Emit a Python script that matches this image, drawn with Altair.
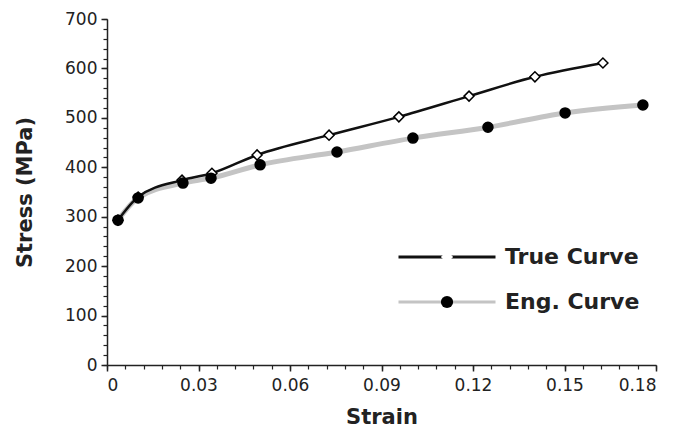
import altair as alt
import pandas as pd

series_names = ["True Curve", "Eng. Curve"]

true_strain = [0.0036, 0.0102, 0.0246, 0.0344, 0.0492, 0.0728, 0.0957, 0.1187, 0.1403, 0.1626]
true_stress = [293, 340, 374, 388, 425, 465, 502, 544, 583, 611]

eng_strain = [0.0036, 0.0102, 0.0249, 0.0341, 0.0502, 0.0754, 0.1003, 0.1249, 0.1502, 0.1757]
eng_stress = [293, 338, 368, 378, 405, 431, 459, 481, 510, 526]

x_major = [0, 0.03, 0.06, 0.09, 0.12, 0.15, 0.18]
x_minor = [round(i * 0.006, 3) for i in range(31)]
y_major = [0, 100, 200, 300, 400, 500, 600, 700]
y_minor = list(range(0, 701, 20))

rows = []
for s, v in zip(true_strain, true_stress):
    rows.append({"strain": s, "stress": v, "series": "True Curve", "marker": "True Curve"})
for s, v in zip(eng_strain, eng_stress):
    rows.append({"strain": s, "stress": v, "series": "Eng. Curve", "marker": "Eng. Curve"})
df = pd.DataFrame(rows)

FONT = "DejaVu Sans"
INK = "#222222"

x_scale = alt.Scale(domain=[0, 0.18], nice=False, zero=False)
y_scale = alt.Scale(domain=[0, 700], nice=False)

x_major_axis = alt.Axis(
    values=x_major, format=".2~f", orient="bottom", grid=False,
    domainColor=INK, domainWidth=1.5, tickColor=INK, tickWidth=1.5, tickSize=6,
    labelFont=FONT, labelFontSize=17, labelColor=INK, labelPadding=6,
    title="Strain", titleFont=FONT, titleFontWeight="bold", titleFontSize=21,
    titleColor=INK, titlePadding=13,
)
y_major_axis = alt.Axis(
    values=y_major, orient="left", grid=False,
    domainColor=INK, domainWidth=1.5, tickColor=INK, tickWidth=1.5, tickSize=6,
    labelFont=FONT, labelFontSize=17, labelColor=INK, labelPadding=4,
    title="Stress (MPa)", titleFont=FONT, titleFontWeight="bold", titleFontSize=21,
    titleColor=INK, titlePadding=29,
)
x_minor_axis = alt.Axis(
    values=x_minor, orient="bottom", grid=False, labels=False, domain=False,
    tickColor=INK, tickWidth=1.2, tickSize=4, title=None,
)
y_minor_axis = alt.Axis(
    values=y_minor, orient="left", grid=False, labels=False, domain=False,
    tickColor=INK, tickWidth=1.2, tickSize=4, title=None,
)

LEG_Y = 227
common_legend = dict(
    title=None, orient="none", legendY=LEG_Y, padding=0,
    labelFont=FONT, labelFontWeight="bold", labelFontSize=22, labelColor=INK,
    rowPadding=23,
)
line_legend = alt.Legend(
    symbolType="M-9.7,0H9.7", symbolSize=100, symbolStrokeWidth=3, symbolOffset=38,
    legendX=291, labelOffset=47, zindex=0,
    **common_legend,
)
marker_legend = alt.Legend(
    symbolSize=150, symbolStrokeColor="black", symbolStrokeWidth=1.5, labelOpacity=0,
    legendX=329, labelOffset=47, zindex=1,
    **common_legend,
)

stroke_enc = alt.Stroke(
    "series:N",
    scale=alt.Scale(domain=series_names, range=["#111111", "#c4c4c4"]),
    legend=line_legend,
)
fill_enc = alt.Fill(
    "marker:N", sort="descending",
    scale=alt.Scale(range=["white", "black"]), legend=marker_legend,
)
shape_enc = alt.Shape(
    "marker:N", sort="descending",
    scale=alt.Scale(range=["diamond", "circle"]), legend=marker_legend,
)

base = alt.Chart(df)

eng_line = base.transform_filter(alt.datum.series == "Eng. Curve").mark_line(
    strokeWidth=5, interpolate="monotone"
).encode(
    x=alt.X("strain:Q", scale=x_scale, axis=x_major_axis),
    y=alt.Y("stress:Q", scale=y_scale, axis=y_major_axis),
    stroke=stroke_enc,
)
true_line = base.transform_filter(alt.datum.series == "True Curve").mark_line(
    strokeWidth=2.5, interpolate="monotone"
).encode(
    x=alt.X("strain:Q", scale=x_scale, axis=None),
    y=alt.Y("stress:Q", scale=y_scale, axis=None),
    stroke=stroke_enc,
)
true_pts = base.transform_filter(alt.datum.series == "True Curve").mark_point(
    filled=False, size=100, stroke="black", strokeWidth=1.5, opacity=1
).encode(
    x=alt.X("strain:Q", scale=x_scale, axis=x_minor_axis),
    y=alt.Y("stress:Q", scale=y_scale, axis=y_minor_axis),
    fill=fill_enc,
    shape=shape_enc,
)
eng_pts = base.transform_filter(alt.datum.series == "Eng. Curve").mark_point(
    filled=False, size=100, stroke="black", strokeWidth=1.5, opacity=1
).encode(
    x=alt.X("strain:Q", scale=x_scale, axis=None),
    y=alt.Y("stress:Q", scale=y_scale, axis=None),
    fill=fill_enc,
    shape=shape_enc,
)

chart = alt.layer(eng_line, true_line, true_pts, eng_pts).resolve_axis(
    x="independent", y="independent"
).properties(
    width=549, height=346,
    autosize=alt.AutoSizeParams(type="none"),
    padding={"left": 99, "top": 11, "right": 20, "bottom": 66},
    background="white",
).configure_view(stroke=None)

chart.save("out.html", embed_options={"renderer": "svg", "actions": False})
